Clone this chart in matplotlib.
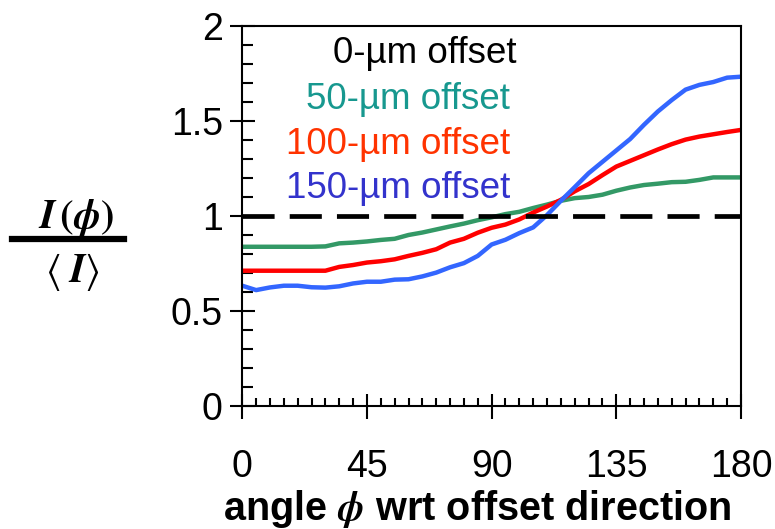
import matplotlib
matplotlib.use("Agg")
import matplotlib.pyplot as plt
from matplotlib.lines import Line2D
from matplotlib.ticker import MultipleLocator

plt.rcParams["font.family"] = ["Liberation Sans", "DejaVu Sans"]
plt.rcParams["mathtext.fontset"] = "stix"

# angle grid (deg) and normalised intensity I(phi)/<I> for each offset
angle = [0, 5, 10, 15, 20, 25, 30, 35, 40, 45, 50, 55, 60, 65, 70, 75, 80, 85, 90,
         95, 100, 105, 110, 115, 120, 125, 130, 135, 140, 145, 150, 155, 160, 165,
         170, 175, 180]
off50 = [0.838, 0.838, 0.838, 0.838, 0.838, 0.838, 0.840, 0.856, 0.860, 0.866,
         0.874, 0.880, 0.900, 0.913, 0.929, 0.945, 0.960, 0.978, 0.993, 1.010,
         1.022, 1.042, 1.060, 1.080, 1.094, 1.100, 1.112, 1.133, 1.150, 1.163,
         1.170, 1.178, 1.180, 1.190, 1.203, 1.203, 1.203]
off100 = [0.712, 0.712, 0.712, 0.712, 0.712, 0.712, 0.712, 0.732, 0.742, 0.755,
          0.762, 0.772, 0.790, 0.806, 0.825, 0.860, 0.880, 0.912, 0.938, 0.955,
          0.982, 1.018, 1.050, 1.085, 1.130, 1.168, 1.215, 1.260, 1.290, 1.320,
          1.350, 1.378, 1.402, 1.418, 1.430, 1.442, 1.453]
off150 = [0.633, 0.610, 0.624, 0.633, 0.633, 0.625, 0.623, 0.630, 0.645, 0.654,
          0.654, 0.665, 0.667, 0.682, 0.702, 0.730, 0.752, 0.790, 0.850, 0.875,
          0.910, 0.940, 1.005, 1.080, 1.152, 1.225, 1.285, 1.345, 1.405, 1.480,
          1.550, 1.610, 1.665, 1.690, 1.705, 1.728, 1.733]

labels = ["0-\u00b5m offset", "50-\u00b5m offset", "100-\u00b5m offset", "150-\u00b5m offset"]
label_colors = ["black", "#17988f", "#ff3300", "#3333cc"]
label_x = [99.1, 96.6, 96.6, 96.6]
label_y = [1.804, 1.562, 1.326, 1.093]

fig = plt.figure(figsize=(7.75, 5.29), dpi=100)
ax = fig.add_axes([0.3126, 0.2325, 0.9561 - 0.3126, 0.9509 - 0.2325])

ax.plot(angle, off50, color="#339966", lw=3.2, solid_capstyle="butt")
ax.plot(angle, off100, color="#ff0000", lw=3.2, solid_capstyle="butt")
ax.plot(angle, off150, color="#3366ff", lw=3.2, solid_capstyle="butt")
ax.axhline(1.0, color="black", lw=3.4, dashes=(6.8, 3.2), zorder=5)

for txt, c, x, y in zip(labels, label_colors, label_x, label_y):
    ax.text(x, y, txt, color=c, fontsize=26.5, ha="right", va="baseline")

ax.set_xlim(0, 180)
ax.set_ylim(0, 2)
ax.xaxis.set_major_locator(MultipleLocator(45))
ax.xaxis.set_minor_locator(MultipleLocator(5))
ax.yaxis.set_major_locator(MultipleLocator(0.5))
ax.yaxis.set_minor_locator(MultipleLocator(0.1))
ax.set_yticks([0, 0.5, 1, 1.5, 2])
ax.set_yticklabels(["0", "0.5", "1", "1.5", "2"])

for s in ax.spines.values():
    s.set_linewidth(1.5)
ax.tick_params(which="major", direction="inout", length=18, width=1.5,
               labelsize=27, top=False, right=False)
ax.tick_params(axis="x", which="major", pad=22)
ax.tick_params(axis="y", which="major", pad=5)
ax.tick_params(axis="x", which="minor", direction="in", length=6, width=1.5,
               top=False)
ax.tick_params(axis="y", which="minor", direction="in", length=8, width=1.5,
               right=False)

fig.text(477 / 775, 1 - 520 / 529, r"angle $\boldsymbol{\phi}$ wrt offset direction",
         fontsize=28.5, fontweight="bold", ha="center", va="baseline")

# y-axis label drawn as a stacked fraction
fig.text(0.098, 1 - 228 / 529, r"$\boldsymbol{I\,(\phi)}$", fontsize=29,
         ha="center", va="baseline")
fig.add_artist(Line2D([12 / 775, 124 / 775], [1 - 238.5 / 529, 1 - 238.5 / 529],
                      color="black", lw=4.5, transform=fig.transFigure))
fig.text(0.093, 1 - 282 / 529, r"$\langle\;\boldsymbol{I}\rangle$", fontsize=29,
         ha="center", va="baseline")

fig.savefig("out.png", dpi=100)
